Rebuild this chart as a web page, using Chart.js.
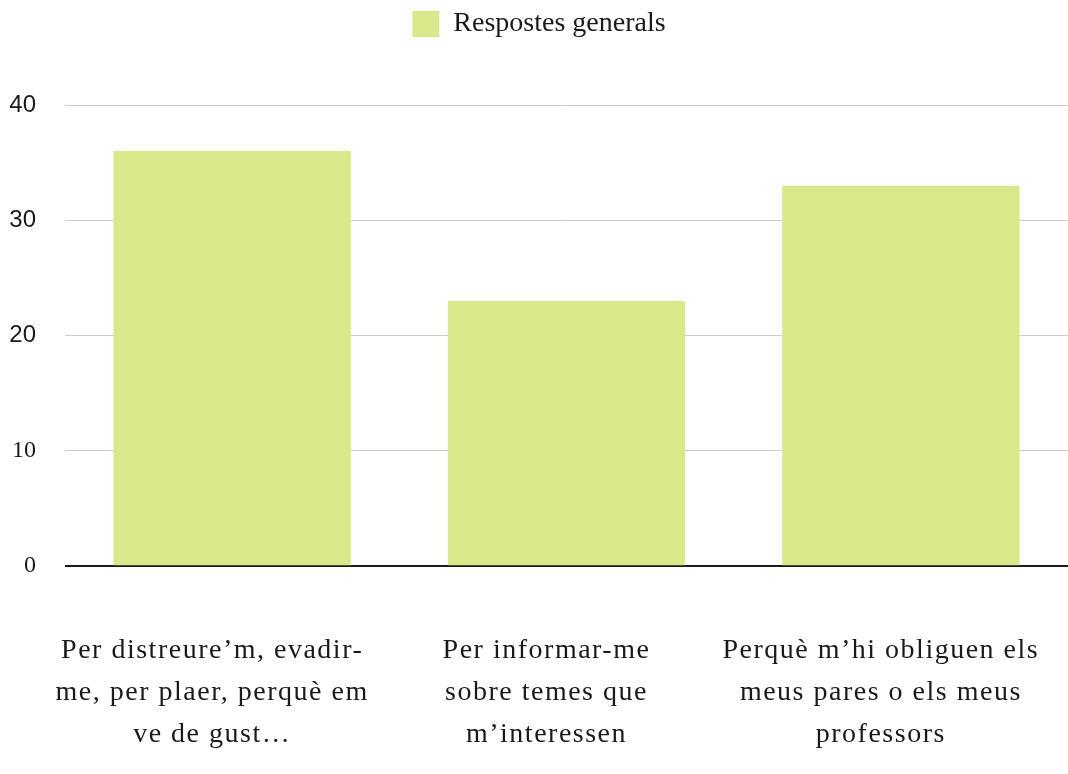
<!DOCTYPE html>
<html lang="ca">
<head>
  <meta charset="UTF-8">
  <title>Respostes generals</title>
  <script src="https://cdn.jsdelivr.net/npm/chart.js"></script>
  <style>
    body { margin: 0; background: #fff; }
    canvas { display: block; }
  </style>
</head>
<body>
  <canvas id="chart" width="1068" height="774"></canvas>

  <script>
    const categories = [
      ["Per distreure\u2019m, evadir-", "me, per plaer, perqu\u00e8 em", "ve de gust\u2026"],
      ["Per informar-me", "sobre temes que", "m\u2019interessen"],
      ["Perqu\u00e8 m\u2019hi obliguen els", "meus pares o els meus", "professors"]
    ];
    const seriesName = "Respostes generals";
    const values = [36, 23, 33];
    const yTicks = [0, 10, 20, 30, 40];

    const serif = "'Liberation Serif', 'Times New Roman', serif";
    const sans = "'Liberation Sans', Arial, sans-serif";

    // push the plot down below the legend
    const legendSpacer = {
      id: 'legendSpacer',
      beforeInit(chart) {
        const fit = chart.legend.fit;
        chart.legend.fit = function () {
          fit.bind(chart.legend)();
          this.height += 57;
        };
      }
    };

    // category labels in the original are set a bit wider
    const wideLabels = {
      id: 'wideLabels',
      beforeDraw(chart) {
        const x = chart.scales.x;
        if (x._wide) return;
        const draw = x.drawLabels;
        x.drawLabels = function (area) {
          const ctx = this.ctx;
          ctx.save();
          ctx.letterSpacing = '1.5px';
          draw.call(this, area);
          ctx.restore();
        };
        x._wide = true;
      }
    };

    new Chart(document.getElementById('chart'), {
      type: 'bar',
      data: {
        labels: categories,
        datasets: [{
          label: seriesName,
          data: values,
          backgroundColor: '#dae88c',
          borderWidth: 0,
          categoryPercentage: 1,
          barPercentage: 0.71
        }]
      },
      options: {
        responsive: false,
        animation: false,
        layout: { padding: { left: 10, right: 0, top: 0, bottom: 15 } },
        plugins: {
          tooltip: { enabled: false },
          legend: {
            labels: {
              boxWidth: 27,
              boxHeight: 26,
              padding: 10,
              color: '#1a1a1a',
              font: { family: serif, size: 28 }
            }
          }
        },
        scales: {
          x: {
            grid: { display: false, drawTicks: true, tickLength: 60 },
            border: { display: false },
            ticks: {
              color: '#1a1a1a',
              padding: 4,
              labelOffset: -20,
              maxRotation: 0,
              autoSkip: false,
              font: { family: serif, size: 28, lineHeight: '41.6px' }
            }
          },
          y: {
            min: 0,
            max: 40,
            afterBuildTicks(axis) { axis.ticks = yTicks.map(v => ({ value: v })); },
            afterFit(axis) { axis.width = 55; },
            border: { display: false },
            grid: {
              drawTicks: false,
              color: ctx => ctx.tick && ctx.tick.value === 0 ? '#1a1a1a' : '#cccccc',
              lineWidth: ctx => ctx.tick && ctx.tick.value === 0 ? 2 : 1
            },
            ticks: {
              color: '#1a1a1a',
              padding: 29,
              font: ctx => ({
                family: ctx.tick && ctx.tick.value <= 10 ? serif : sans,
                size: 24
              })
            }
          }
        }
      },
      plugins: [legendSpacer, wideLabels]
    });
  </script>
</body>
</html>
